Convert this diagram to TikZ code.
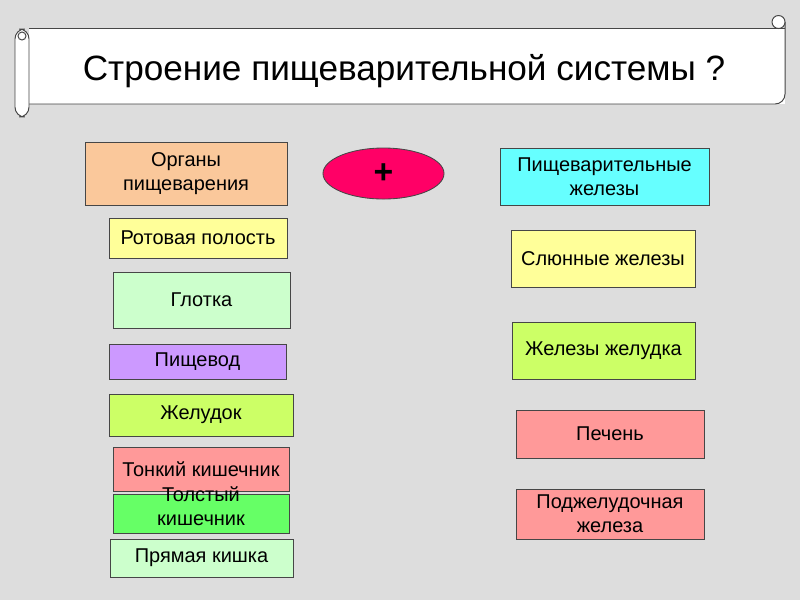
\documentclass[tikz,border=0pt]{standalone}
\usepackage{fontspec}
\setmainfont{Liberation Sans}
\usepackage{tikz}
\usetikzlibrary{shapes.geometric}
\definecolor{bggray}{RGB}{221,221,221}
\definecolor{framegray}{RGB}{70,70,70}
\definecolor{hdrpeach}{RGB}{250,200,155}
\definecolor{hdryellow}{RGB}{255,255,153}
\definecolor{hdrmint}{RGB}{204,255,204}
\definecolor{hdrlilac}{RGB}{204,153,255}
\definecolor{hdrlime}{RGB}{204,255,102}
\definecolor{hdrpink}{RGB}{255,153,153}
\definecolor{hdrgreen}{RGB}{102,255,102}
\definecolor{hdrcyan}{RGB}{102,255,255}
\definecolor{plusred}{RGB}{255,0,102}
\tikzset{
  organ/.style={rectangle, draw=framegray, inner sep=1pt, align=center,
    font=\fontsize{14.2}{17}\selectfont, line width=0.6pt},
  plusoval/.style={ellipse, draw=framegray, fill=plusred, inner sep=0pt,
    font=\fontsize{24}{28}\selectfont\bfseries, line width=0.6pt},
  scroll/.style={draw=framegray, line width=0.7pt}
}
\begin{document}
\begin{tikzpicture}[x=0.025cm, y=-0.025cm]
  \fill[bggray] (0,0) rectangle (800,600);
  \useasboundingbox (0,0) rectangle (800,600);
  % Scroll banner
  \fill[white] (29,28) rectangle (785,104);
  \draw[scroll] (29,28) -- (773,28);
  \draw[scroll, rounded corners=7pt] (785,22) -- (785,104) -- (29,104);
  \draw[scroll, fill=white] (778.5,22) circle (6.5);
  \draw[scroll] (773,28) -- (785,28);
  \draw[scroll, fill=white, rounded corners=7pt] (15,29) rectangle (29,117);
  \draw[scroll, fill=white] (22,36) circle (4);
  \node[font=\fontsize{25}{30}\selectfont] (title) at (404,71)
    {Строение пищеварительной системы ?};
  % Organs
  \node[organ, fill=hdrpeach, minimum width=5.05cm, minimum height=1.575cm]
    (organs) at (186,173.5) {Органы\\пищеварения};
  \node[organ, fill=hdryellow, minimum width=4.45cm, minimum height=1cm]
    (mouth) at (198,238) {Ротовая полость};
  \node[organ, fill=hdrmint, minimum width=4.425cm, minimum height=1.4cm]
    (pharynx) at (201.5,300) {Глотка};
  \node[organ, fill=hdrlilac, minimum width=4.425cm, minimum height=0.875cm]
    (gullet) at (197.5,361.5) {Пищевод};
  \node[organ, fill=hdrlime, minimum width=4.6cm, minimum height=1.05cm]
    (stomach) at (201,415) {Желудок};
  \node[organ, fill=hdrpink, minimum width=4.4cm, minimum height=1.1cm]
    (smallgut) at (201,469) {Тонкий кишечник};
  \node[organ, fill=hdrgreen, minimum width=4.4cm, minimum height=0.975cm]
    (largegut) at (201,513.5)
    {\smash{\begin{tabular}{@{}c@{}}Толстый\\кишечник\end{tabular}}};
  \node[organ, fill=hdrmint, minimum width=4.575cm, minimum height=0.95cm]
    (rectum) at (201.5,558) {Прямая кишка};
  % Plus
  \node[plusoval, minimum width=3.025cm, minimum height=1.275cm]
    (plus) at (383.5,173.5) {+};
  % Glands
  \node[organ, fill=hdrcyan, minimum width=5.225cm, minimum height=1.425cm]
    (glands) at (604.5,176.5) {Пищеварительные\\железы};
  \node[organ, fill=hdryellow, minimum width=4.6cm, minimum height=1.425cm]
    (saliva) at (603,258.5) {Слюнные железы};
  \node[organ, fill=hdrlime, minimum width=4.575cm, minimum height=1.425cm]
    (gastric) at (603.5,350.5) {Железы желудка};
  \node[organ, fill=hdrpink, minimum width=4.7cm, minimum height=1.2cm]
    (liver) at (610,434) {Печень};
  \node[organ, fill=hdrpink, minimum width=4.7cm, minimum height=1.25cm]
    (pancreas) at (610,514) {Поджелудочная\\железа};
\end{tikzpicture}
\end{document}
